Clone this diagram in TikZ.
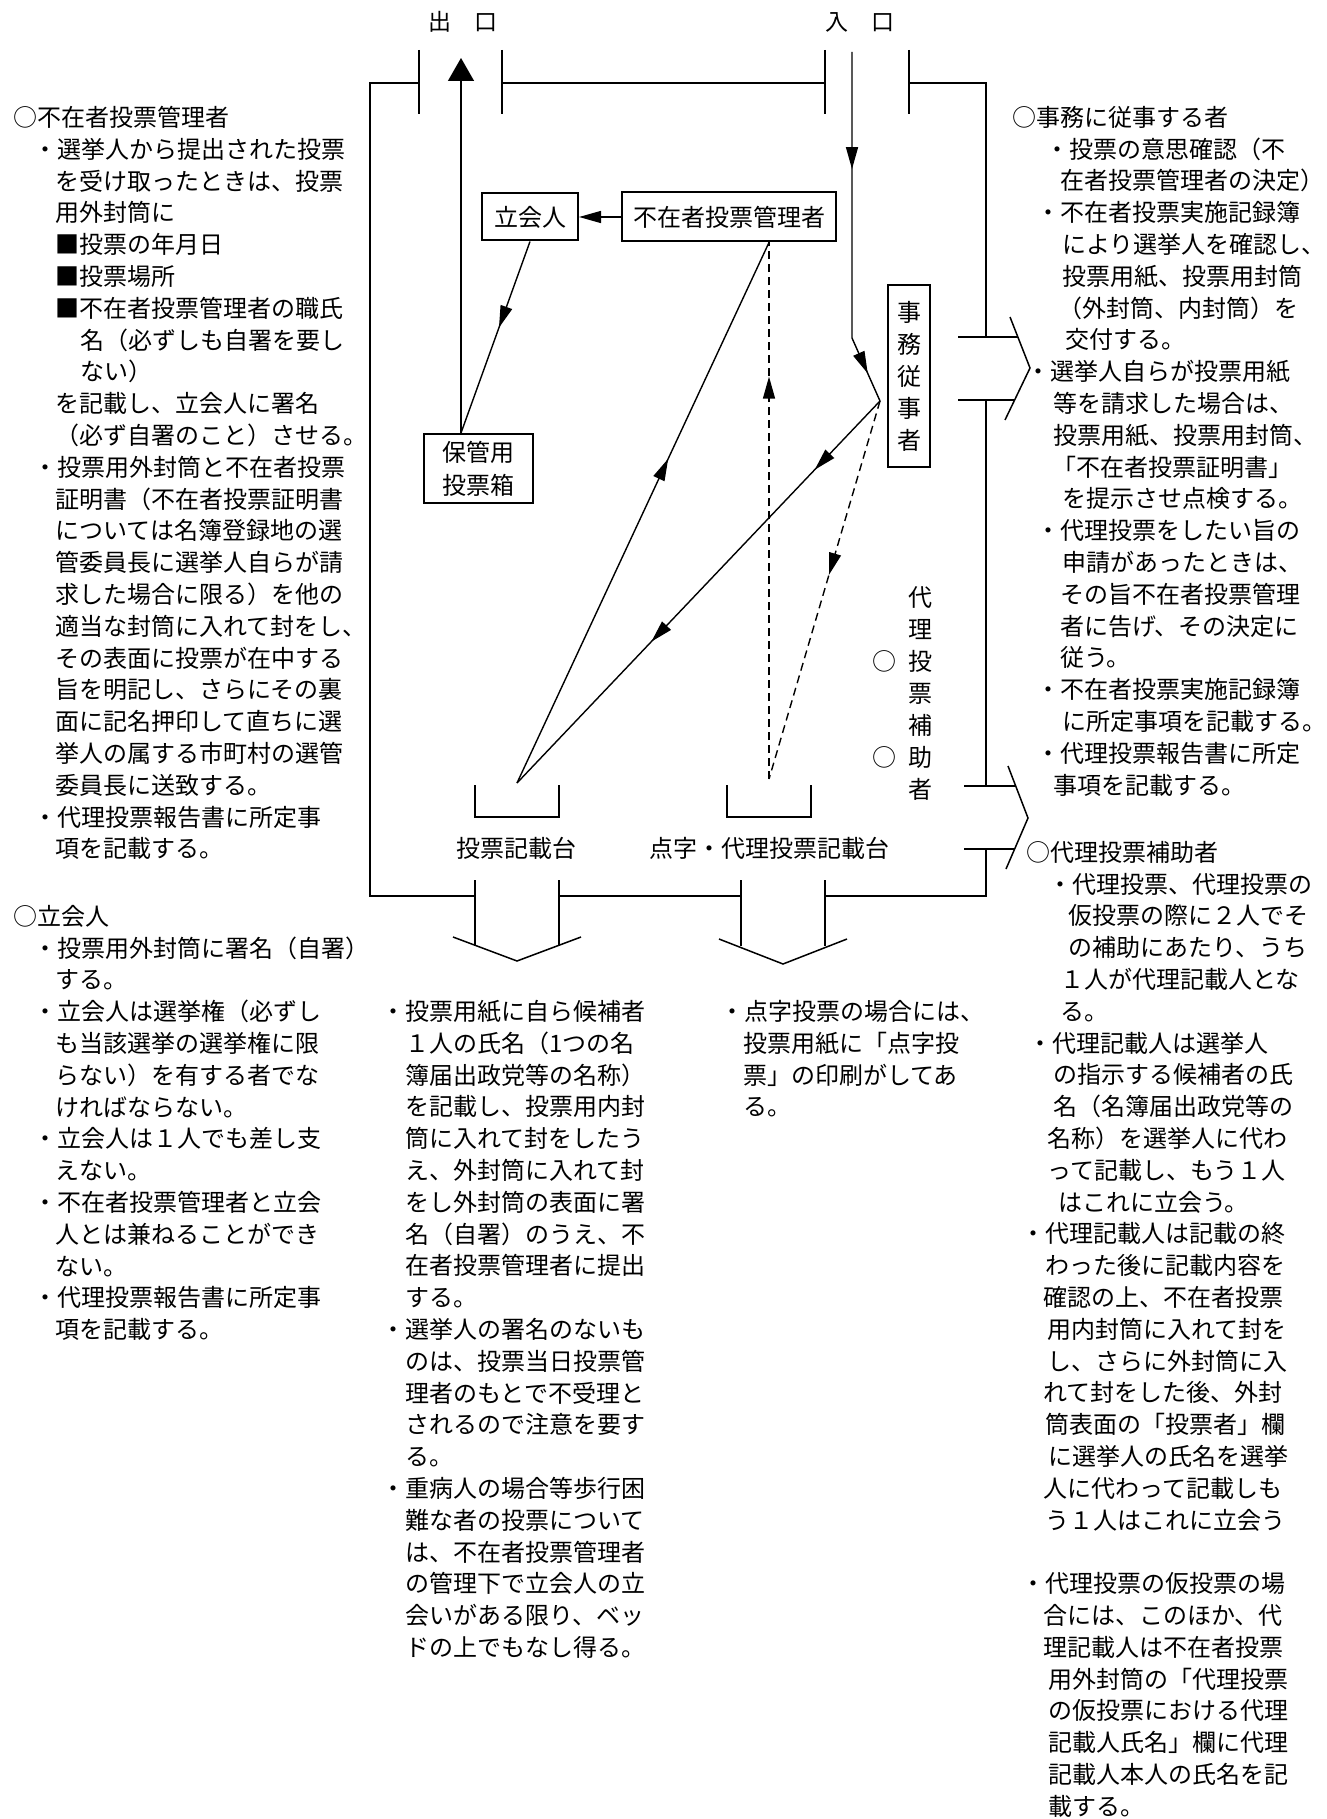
\documentclass[tikz,border=0pt]{standalone}
\usepackage{fontspec}
\setmainfont{Noto Sans CJK JP}
\usetikzlibrary{arrows.meta}
\usetikzlibrary{decorations.markings}

\newcommand{\rientro}[1]{\hspace*{#1pt}}

\begin{document}
\begin{tikzpicture}[x=1pt, y=-1pt, font=\fontsize{24}{31.8}\selectfont]

%====Definizione stili================================================
	\tikzstyle{wall}=[line width=2.3pt]
	\tikzstyle{bracket}=[line width=1.5pt]
	\tikzstyle{labelbox}=[draw, line width=2pt, inner sep=0pt]
	\tikzstyle{flow}=[line width=1.4pt]
	\tikzstyle{maybe}=[flow, dash pattern=on 8pt off 5pt]
	\tikzstyle{note}=[anchor=north west, align=left, inner sep=0pt]
	\tikzstyle{tate}=[align=center, inner sep=0pt, font=\fontsize{24}{32}\selectfont]
	\tikzset{midtip/.style={postaction={decorate, decoration={markings,
		mark=at position #1 with {\arrow{Triangle[length=22pt,width=12pt]}}}}}}

	\path[fill=white] (0,0) rectangle (1325,1819);

%====Pareti e porte====================================================
	\draw[wall] (419,83) -- (370,83) -- (370,896) -- (475,896);
	\draw[wall] (502,83) -- (825,83);
	\draw[wall] (909,83) -- (986,83) -- (986,337);
	\draw[wall] (986,400) -- (986,786);
	\draw[wall] (986,849) -- (986,896) -- (825,896);
	\draw[wall] (559,896) -- (741,896);
	\foreach \x in {419,502,825,909}
		\draw[wall] (\x,50) -- (\x,114);
	\draw[wall] (958,337) -- (1018,337);
	\draw[wall] (958,400) -- (1015,400);
	\draw[wall] (964,786) -- (1016,786);
	\draw[wall] (964,849) -- (1015,849);
	\draw[bracket] (1010,317) -- (1030,368) -- (1005,420);
	\draw[bracket] (1008,766) -- (1028,818) -- (1006,869);

%====Uscite in basso===================================================
	\foreach \x in {475,559,741,825}
		\draw[wall] (\x,880) -- (\x,946);
	\draw[bracket] (453,937) -- (517,961) -- (581,937);
	\draw[bracket] (719,939) -- (783,964) -- (847,939);

%====Tavoli di scrittura===============================================
	\draw[wall] (475,785) -- (475,817) -- (559,817) -- (559,785);
	\draw[wall] (727,785) -- (727,817) -- (811,817) -- (811,785);

%====Nodi e posizione==================================================
	\node				(exitlabel)		at (463,22)		{\fontsize{23}{23}\selectfont 出　口};
	\node				(entrylabel)	at (860,22)		{\fontsize{23}{23}\selectfont 入　口};
	\node[labelbox, minimum width=96pt, minimum height=47pt]	(witness)	at (530,217)	{立会人};
	\node[labelbox, minimum width=214pt, minimum height=49pt]	(manager)	at (729,217)	{不在者投票管理者};
	\node[labelbox, tate, font=\fontsize{24}{33}\selectfont, minimum width=109pt, minimum height=69pt]	(ballotbox)	at (478.5,468.5)	{保管用\\投票箱};
	\node[labelbox, tate, minimum width=42pt, minimum height=182pt]	(clerk)	at (909,376)	{事\\務\\従\\事\\者};
	\node[tate]			(helper)		at (920,693)	{代\\理\\投\\票\\補\\助\\者};
	\node				(markA)			at (884,661)	{○};
	\node				(markB)			at (884,757)	{○};
	\node				(desklabel)		at (516,848)	{投票記載台};
	\node				(brailledesklabel)	at (769,848)	{点字・代理投票記載台};

	\coordinate (exit)			at (461,58);
	\coordinate (entry)			at (852,52);
	\coordinate (turn)			at (852,338);
	\coordinate (clerkpt)		at (880,401);
	\coordinate (desk)			at (517,783);
	\coordinate (brailledesk)	at (769,779);
	\coordinate (boxtop)		at (ballotbox.north -| exit);
	\coordinate (managerfoot)	at (manager.south -| brailledesk);

%====Collegamenti e frecce=============================================
	\draw[flow, -{Triangle[length=22pt,width=12pt]}]	(manager.west)	-- (manager.west -| witness.east);
	\draw[flow, midtip=0.45]							(witness.south)	-- (boxtop);
	\draw[flow, -{Triangle[length=23pt,width=26pt]}]	(boxtop)		-- (exit);
	\draw[flow, midtip=0.33, midtip=0.915]				(entry)			-- (turn) -- (clerkpt);
	\draw[flow, midtip=0.18, midtip=0.63]				(clerkpt)		-- (desk);
	\draw[flow, midtip=0.60]							(desk)			-- (managerfoot);
	\draw[maybe, midtip=0.46]							(clerkpt)		-- (brailledesk);
	\draw[maybe, midtip=0.75]							(brailledesk)	-- (managerfoot);

%====Testi a sinistra==================================================
	\node[note] (managernote) at (13,106) {○不在者投票管理者\\
		\rientro{20}・選挙人から提出された投票\\
		\rientro{42}を受け取ったときは、投票\\
		\rientro{42}用外封筒に\\
		\rientro{42}■投票の年月日\\
		\rientro{42}■投票場所\\
		\rientro{42}■不在者投票管理者の職氏\\
		\rientro{67}名（必ずしも自署を要し\\
		\rientro{67}ない）\\
		\rientro{42}を記載し、立会人に署名\\
		\rientro{42}（必ず自署のこと）させる。\\
		\rientro{20}・投票用外封筒と不在者投票\\
		\rientro{42}証明書（不在者投票証明書\\
		\rientro{42}については名簿登録地の選\\
		\rientro{42}管委員長に選挙人自らが請\\
		\rientro{42}求した場合に限る）を他の\\
		\rientro{42}適当な封筒に入れて封をし、\\
		\rientro{42}その表面に投票が在中する\\
		\rientro{42}旨を明記し、さらにその裏\\
		\rientro{42}面に記名押印して直ちに選\\
		\rientro{42}挙人の属する市町村の選管\\
		\rientro{42}委員長に送致する。\\
		\rientro{20}・代理投票報告書に所定事\\
		\rientro{42}項を記載する。};

	\node[note] (witnessnote) at (13,905) {○立会人\\
		\rientro{20}・投票用外封筒に署名（自署）\\
		\rientro{42}する。\\
		\rientro{20}・立会人は選挙権（必ずし\\
		\rientro{42}も当該選挙の選挙権に限\\
		\rientro{42}らない）を有する者でな\\
		\rientro{42}ければならない。\\
		\rientro{20}・立会人は１人でも差し支\\
		\rientro{42}えない。\\
		\rientro{20}・不在者投票管理者と立会\\
		\rientro{42}人とは兼ねることができ\\
		\rientro{42}ない。\\
		\rientro{20}・代理投票報告書に所定事\\
		\rientro{42}項を記載する。};

%====Testi al centro===================================================
	\node[note] (desknote) at (381,1000) {・投票用紙に自ら候補者\\
		\rientro{24}１人の氏名（1つの名\\
		\rientro{24}簿届出政党等の名称）\\
		\rientro{24}を記載し、投票用内封\\
		\rientro{24}筒に入れて封をしたう\\
		\rientro{24}え、外封筒に入れて封\\
		\rientro{24}をし外封筒の表面に署\\
		\rientro{24}名（自署）のうえ、不\\
		\rientro{24}在者投票管理者に提出\\
		\rientro{24}する。\\
		・選挙人の署名のないも\\
		\rientro{24}のは、投票当日投票管\\
		\rientro{24}理者のもとで不受理と\\
		\rientro{24}されるので注意を要す\\
		\rientro{24}る。\\
		・重病人の場合等歩行困\\
		\rientro{24}難な者の投票について\\
		\rientro{24}は、不在者投票管理者\\
		\rientro{24}の管理下で立会人の立\\
		\rientro{24}会いがある限り、ベッ\\
		\rientro{24}ドの上でもなし得る。};

	\node[note] (braillenote) at (720,1000) {・点字投票の場合には、\\
		\rientro{23}投票用紙に「点字投\\
		\rientro{23}票」の印刷がしてあ\\
		\rientro{23}る。};

%====Testi a destra====================================================
	\node[note] (clerknote) at (1012,106) {○事務に従事する者\\
		\rientro{33}・投票の意思確認（不\\
		\rientro{48}在者投票管理者の決定）\\
		\rientro{24}・不在者投票実施記録簿\\
		\rientro{50}により選挙人を確認し、\\
		\rientro{50}投票用紙、投票用封筒\\
		\rientro{46}（外封筒、内封筒）を\\
		\rientro{53}交付する。\\
		\rientro{14}・選挙人自らが投票用紙\\
		\rientro{41}等を請求した場合は、\\
		\rientro{41}投票用紙、投票用封筒、\\
		\rientro{40}「不在者投票証明書」\\
		\rientro{50}を提示させ点検する。\\
		\rientro{24}・代理投票をしたい旨の\\
		\rientro{50}申請があったときは、\\
		\rientro{48}その旨不在者投票管理\\
		\rientro{48}者に告げ、その決定に\\
		\rientro{48}従う。\\
		\rientro{24}・不在者投票実施記録簿\\
		\rientro{50}に所定事項を記載する。\\
		\rientro{24}・代理投票報告書に所定\\
		\rientro{41}事項を記載する。};

	\node[note] (helpernote) at (1021,841) {\rientro{5}○代理投票補助者\\
		\rientro{27}・代理投票、代理投票の\\
		\rientro{47}仮投票の際に２人でそ\\
		\rientro{47}の補助にあたり、うち\\
		\rientro{39}１人が代理記載人とな\\
		\rientro{39}る。\\
		\rientro{7}・代理記載人は選挙人\\
		\rientro{32}の指示する候補者の氏\\
		\rientro{32}名（名簿届出政党等の\\
		\rientro{26}名称）を選挙人に代わ\\
		\rientro{26}って記載し、もう１人\\
		\rientro{37}はこれに立会う。\\
		・代理記載人は記載の終\\
		\rientro{24}わった後に記載内容を\\
		\rientro{22}確認の上、不在者投票\\
		\rientro{26}用内封筒に入れて封を\\
		\rientro{26}し、さらに外封筒に入\\
		\rientro{22}れて封をした後、外封\\
		\rientro{24}筒表面の「投票者」欄\\
		\rientro{27}に選挙人の氏名を選挙\\
		\rientro{22}人に代わって記載しも\\
		\rientro{24}う１人はこれに立会う\\[31.8pt]
		・代理投票の仮投票の場\\
		\rientro{22}合には、このほか、代\\
		\rientro{22}理記載人は不在者投票\\
		\rientro{27}用外封筒の「代理投票\\
		\rientro{27}の仮投票における代理\\
		\rientro{27}記載人氏名」欄に代理\\
		\rientro{27}記載人本人の氏名を記\\
		\rientro{27}載する。};

\end{tikzpicture}
\end{document}
